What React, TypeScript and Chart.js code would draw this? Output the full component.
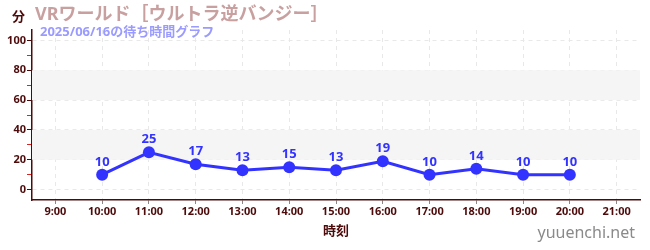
import React, { useEffect, useRef } from "react";
import { Chart, registerables } from "chart.js";

Chart.register(...registerables);

const hours = [10, 11, 12, 13, 14, 15, 16, 17, 18, 19, 20];
const waitMinutes = [10, 25, 17, 13, 15, 13, 19, 10, 14, 10, 10];
const xTickHours = [9, 10, 11, 12, 13, 14, 15, 16, 17, 18, 19, 20, 21];
const yTickValues = [0, 10, 20, 30, 40, 50, 60, 70, 80, 90, 100];
const shadedBands = [
  [20, 40],
  [60, 80],
];
const titleText = "VRワールド［ウルトラ逆バンジー］";
const subtitleText = "2025/06/16の待ち時間グラフ";
const yUnitText = "分";
const xTitleText = "時刻";
const watermarkText = "yuuenchi.net";

const MAROON = "#4d0a0a";
const BLUE = "#3333ff";
const SANS = "'Noto Sans', 'Noto Sans CJK JP', sans-serif";

export default function App() {
  const ref = useRef<HTMLCanvasElement | null>(null);

  useEffect(() => {
    document.body.style.margin = "0";
    const canvas = ref.current;
    if (!canvas) return;

    const bandsPlugin = {
      id: "bands",
      beforeDatasetsDraw(chart: any) {
        const { ctx, chartArea, scales } = chart;
        ctx.save();
        ctx.fillStyle = "#f5f5f5";
        for (const [a, b] of shadedBands) {
          const y1 = scales.y.getPixelForValue(b);
          const y2 = scales.y.getPixelForValue(a);
          ctx.fillRect(chartArea.left, y1, chartArea.right - chartArea.left, y2 - y1);
        }
        ctx.restore();
      },
    };

    const labelsPlugin = {
      id: "labelsText",
      afterDatasetsDraw(chart: any) {
        const { ctx } = chart;
        const meta = chart.getDatasetMeta(0);
        ctx.save();
        ctx.fillStyle = BLUE;
        ctx.font = `bold 13px ${SANS}`;
        ctx.textAlign = "center";
        ctx.textBaseline = "bottom";
        meta.data.forEach((pt: any, i: number) => {
          ctx.fillText(String(waitMinutes[i]), pt.x, pt.y - 6);
        });
        ctx.restore();
      },
      afterDraw(chart: any) {
        const { ctx, chartArea } = chart;
        ctx.save();
        ctx.textBaseline = "middle";
        ctx.textAlign = "left";
        ctx.fillStyle = MAROON;
        ctx.font = `bold 13px ${SANS}`;
        ctx.fillText(yUnitText, 12, 17);
        ctx.fillStyle = "#c9a0a0";
        ctx.font = `bold 18px ${SANS}`;
        ctx.fillText(titleText, 35, 15);
        ctx.fillStyle = "#9a9aff";
        ctx.font = `bold 13px ${SANS}`;
        ctx.fillText(subtitleText, 40, 32);
        ctx.textAlign = "center";
        ctx.fillStyle = MAROON;
        ctx.font = `bold 13px ${SANS}`;
        ctx.fillText(xTitleText, (chartArea.left + chartArea.right) / 2, 231);
        ctx.textAlign = "right";
        ctx.fillStyle = "#8a8a8a";
        ctx.font = `16px ${SANS}`;
        ctx.fillText(watermarkText, 635, 233);
        ctx.restore();
      },
    };

    const chart = new Chart(canvas, {
      type: "line",
      data: {
        datasets: [
          {
            data: hours.map((h, i) => ({ x: h, y: waitMinutes[i] })),
            borderColor: BLUE,
            backgroundColor: BLUE,
            borderWidth: 3,
            pointRadius: 6,
            pointBackgroundColor: BLUE,
            pointBorderWidth: 0,
            tension: 0,
          },
        ],
      },
      options: {
        animation: false,
        responsive: false,
        layout: { padding: { top: 30, right: 10, left: 0, bottom: 0 } },
        plugins: { legend: { display: false }, tooltip: { enabled: false } },
        scales: {
          x: {
            type: "linear",
            min: 8.5,
            max: 21.5,
            afterBuildTicks: (scale: any) => {
              scale.ticks = xTickHours.map((v) => ({ value: v }));
            },
            afterFit: (scale: any) => {
              scale.height = 50;
            },
            ticks: {
              color: MAROON,
              font: { family: SANS, size: 11, weight: "bold" },
              padding: 1,
              maxRotation: 0,
              autoSkip: false,
              callback: (v: any) => `${v}:00`,
            },
            grid: {
              color: "#e8e8e8",
              tickColor: "#888888",
              tickLength: 4,
              drawOnChartArea: true,
            },
            border: { color: MAROON, width: 1.5, dash: [4, 4] },
          },
          y: {
            type: "linear",
            min: -7,
            max: 107,
            afterBuildTicks: (scale: any) => {
              scale.ticks = yTickValues.map((v) => ({ value: v }));
            },
            afterFit: (scale: any) => {
              scale.width = 32;
            },
            ticks: {
              color: MAROON,
              font: { family: SANS, size: 11, weight: "bold" },
              padding: 1,
              callback: (v: any) => (v % 20 === 0 ? String(v) : ""),
            },
            grid: {
              color: (c: any) => (c.tick && c.tick.value % 20 === 0 ? "#e8e8e8" : "rgba(0,0,0,0)"),
              tickColor: (c: any) => (c.tick && c.tick.value % 20 === 0 ? MAROON : "#dd2222"),
              tickLength: 5,
            },
            border: { color: MAROON, width: 1.5, dash: [4, 4] },
          },
        },
      },
      plugins: [bandsPlugin, labelsPlugin],
    } as any);

    return () => chart.destroy();
  }, []);

  return (
    <canvas
      ref={ref}
      width={650}
      height={250}
      style={{ display: "block", width: 650, height: 250 }}
    />
  );
}
